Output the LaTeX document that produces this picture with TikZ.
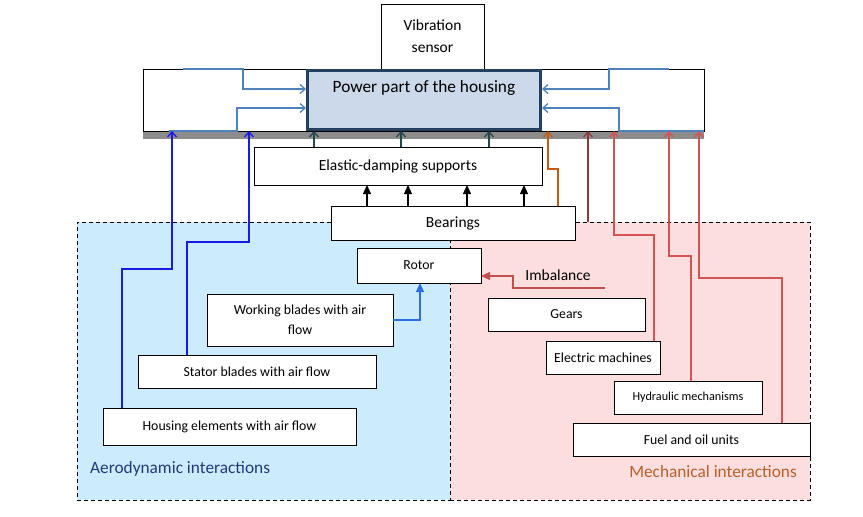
\documentclass[tikz,border=0pt]{standalone}
\usepackage{fontspec}
\setmainfont{Carlito}
\usetikzlibrary{arrows.meta}

\definecolor{aerofill}{HTML}{CCEBFD}
\definecolor{mechfill}{HTML}{FDDEDF}
\definecolor{aerotext}{HTML}{1F3A78}
\definecolor{mechtext}{HTML}{B5602B}
\definecolor{bargray}{HTML}{8C8C8C}
\definecolor{powerfill}{HTML}{CCD9EA}
\definecolor{powerline}{HTML}{243F60}
\definecolor{flowblue}{HTML}{4F81BD}
\definecolor{aeroblue}{HTML}{1A1AE6}
\definecolor{wbblue}{HTML}{2F6EE0}
\definecolor{supteal}{HTML}{24474D}
\definecolor{brgorange}{HTML}{C55A11}
\definecolor{deepred}{HTML}{8B3A3A}
\definecolor{linered}{HTML}{D55353}
\definecolor{imbred}{HTML}{C0504D}

\newcommand{\sizeL}{\fontsize{17.3}{20}\selectfont}
\newcommand{\sizeM}{\fontsize{15.5}{22}\selectfont}
\newcommand{\sizeS}{\fontsize{13.8}{20}\selectfont}
\newcommand{\sizeXS}{\fontsize{12.2}{15}\selectfont}

\begin{document}
\begin{tikzpicture}[
    x=1pt, y=-1pt,
    every node/.style={font=\sizeS, inner sep=0pt, align=center},
    box/.style={
        draw=black,
        fill=white,
        line width=1pt,
        outer sep=0pt,
    },
    region/.style={
        draw=black,
        line width=1pt,
        outer sep=0pt,
        dash pattern=on 4pt off 3pt,
        minimum height=278,
    },
    barb/.style={-{Straight Barb[length=5pt, width=9pt]}},
    tri/.style={-{Triangle[length=9pt, width=8pt]}},
    flowline/.style={draw=flowblue, line width=1.3pt, barb},
    aeroline/.style={draw=aeroblue, line width=1.3pt, barb},
    tealline/.style={draw=supteal, line width=1.3pt, barb},
    redline/.style={draw=linered, line width=1.3pt, barb},
]

\useasboundingbox (0,0) rectangle (863,517);

% Y positions
\def\yreg{361}
\def\ybar{135}
\def\yhouse{100}

% --- Interaction regions ---
\node[region, fill=aerofill, minimum width=373] (aero) at (263.5, \yreg) {};
\node[region, fill=mechfill, minimum width=360] (mech) at (630, \yreg) {};
\node[font=\sizeL, text=aerotext, anchor=west] (aerolbl) at (90, 469) {Aerodynamic interactions};
\node[font=\sizeL, text=mechtext, anchor=east] (mechlbl) at (797, 472) {Mechanical interactions};

% --- Housing ---
\node[fill=bargray, outer sep=0pt, minimum width=561, minimum height=8] (bar) at (423.5, \ybar) {};
\node[box, minimum width=561, minimum height=62] (housing) at (423.5, \yhouse) {};
\node[box, minimum width=103, minimum height=65, font=\sizeM] (sensor) at (432.5, 36.5)
    {Vibration\\sensor};
\node[draw=powerline, fill=powerfill, line width=3pt, minimum width=233, minimum height=59,
    font=\sizeL, text height=10pt, text depth=26pt] (power) at (424, \yhouse)
    {Power part of the housing};

% --- Supports, bearings, rotor ---
\node[box, minimum width=288, minimum height=38, font=\sizeM] (eds) at (398, 166) {Elastic-damping supports};
\node[box, minimum width=244, minimum height=34, font=\sizeM] (brg) at (453, 223) {Bearings};
\node[box, minimum width=124, minimum height=35] (rotor) at (419, 265.5) {Rotor};
\node[font=\sizeM] (imb) at (558, 275) {Imbalance};

% --- Aerodynamic sources ---
\node[box, minimum width=186, minimum height=52] (wb) at (300, 320) {Working blades with air\\flow};
\node[box, minimum width=238, minimum height=33] (stator) at (257, 371.5) {Stator blades with air flow};
\node[box, minimum width=253, minimum height=37] (hsg) at (229.5, 426.5) {Housing elements with air flow};

% --- Mechanical sources ---
\node[box, minimum width=157, minimum height=33] (gears) at (566.5, 314.5) {Gears};
\node[box, minimum width=114, minimum height=33] (em) at (603, 357.5) {Electric machines};
\node[box, minimum width=148, minimum height=33, font=\sizeXS] (hyd) at (688, 397.5) {Hydraulic mechanisms};
\node[box, minimum width=237, minimum height=33] (fuel) at (691.5, 439.5) {Fuel and oil units};

% Flows inside the housing
\draw[flowline] ([xshift=40]housing.north west) -| (243, 89) -- (power.west |- 243, 89);
\draw[flowline] ([xshift=26]housing.south west) -| (237, 108) -- (power.west |- 237, 108);
\draw[flowline] ([xshift=-35]housing.north east) -| (609, 89) -- (power.east |- 609, 89);
\draw[flowline] (housing.south east) -| (619, 108) -- (power.east |- 619, 108);

% Supports to housing, bearings to supports
\foreach \dx in {60, 147, 235}
    \draw[tealline] ([xshift=\dx]eds.north west) coordinate (s) -- (s |- bar.north);
\foreach \dx in {36, 77, 136, 193}
    \draw[tri, line width=1.3pt] ([xshift=\dx]brg.north west) coordinate (s) -- (s |- eds.south);
\draw[draw=brgorange, line width=1.3pt, barb] ([xshift=227]brg.north west) |- (548, 169) -- (548, 169 |- bar.north);

% Mechanical paths
\draw[draw=deepred, line width=1.3pt, barb] (mech.north -| 588, 0) -- (bar.north -| 588, 0);
\draw[redline] ([xshift=108]em.north west) |- (614, 235) -- (614, 235 |- bar.north);
\draw[redline] ([xshift=77]hyd.north west) |- (669, 256) -- (669, 256 |- bar.north);
\draw[redline] ([xshift=209]fuel.north west) |- (699, 278) -- (699, 278 |- bar.north);
\coordinate (imbtail) at (605, 288);
\draw[draw=imbred, line width=1.3pt, tri] (imbtail) -| (513, 276) -- (rotor.east |- 513, 276);

% Aerodynamic paths
\draw[aeroline] ([xshift=19]hsg.north west) |- (172, 269) -- (172, 269 |- bar.north);
\draw[aeroline] ([xshift=49]stator.north west) |- (249, 242) -- (249, 242 |- bar.north);
\draw[draw=wbblue, line width=1.3pt, tri] (wb.east) -| ([xshift=63]rotor.south west);

\end{tikzpicture}
\end{document}
